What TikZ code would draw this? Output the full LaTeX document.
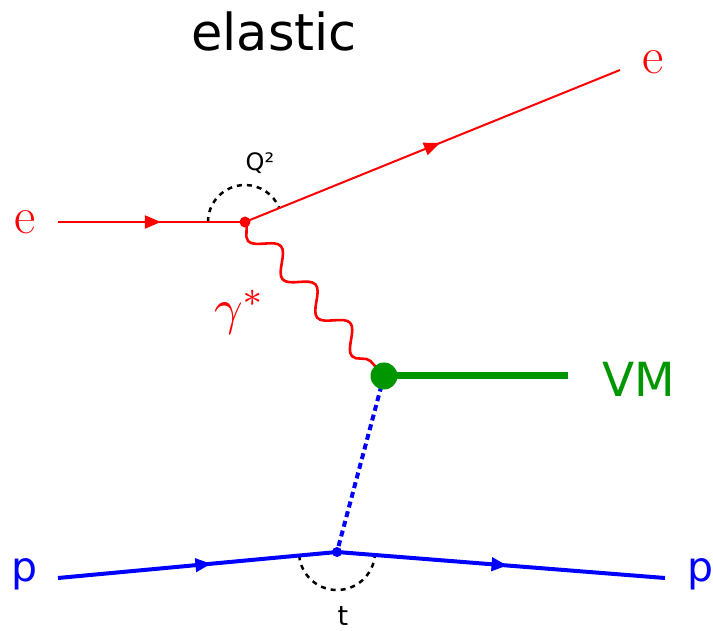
\documentclass[tikz,border=0pt]{standalone}
\usepackage{fontspec}
\newfontfamily\dvsans{DejaVu Sans}
\usetikzlibrary{calc,decorations.pathmorphing,decorations.markings,arrows.meta}
\definecolor{ered}{RGB}{255,0,0}
\definecolor{pblue}{RGB}{0,0,255}
\definecolor{vmgreen}{RGB}{0,150,0}
\tikzset{
  midarrow/.style={postaction={decorate},decoration={markings,mark=at position #1 with {\arrow{Triangle[length=16pt,width=13pt]}}}},
  electron/.style={draw=ered,line width=2pt},
  proton/.style={draw=pblue,line width=4pt},
  photon/.style={draw=ered,line width=2.6pt,decorate,decoration={snake,mirror,amplitude=10.5pt,segment length=51.7pt,post length=2pt}},
  pomeron/.style={draw=pblue,line width=4pt,dash pattern=on 6pt off 4pt},
  anglearc/.style={draw=black,line width=2.5pt,dash pattern=on 5pt off 5pt},
  lbl/.style={inner sep=0pt},
}
\begin{document}
\begin{tikzpicture}[x=1pt,y=-1pt]
\useasboundingbox (0,0) rectangle (713,631);
\coordinate (ein) at (58,222);
\coordinate (ev) at (245,222);
\coordinate (eout) at (620,70);
\coordinate (vm) at (384,376);
\coordinate (vmend) at (568,376);
\coordinate (pin) at (58,578);
\coordinate (pv) at (337,552);
\coordinate (pout) at (665,578);
% arcs
\draw[anglearc] ($(ev)+(180:37)$) arc[start angle=180,end angle=338,radius=37];
\draw[anglearc] ($(pv)+(175:38)$) arc[start angle=175,end angle=5,radius=38];
% electron
\draw[electron,midarrow=0.55,fill=ered] (ein) -- (ev);
\draw[electron,midarrow=0.52,fill=ered] (ev) -- (eout);
% photon
\draw[photon] (ev) -- (vm);
% pomeron
\draw[pomeron] (vm) -- (pv);
% proton
\draw[proton,midarrow=0.55,fill=pblue] (pin) -- (pv);
\draw[proton,midarrow=0.52,fill=pblue] (pv) -- (pout);
% VM
\draw[draw=vmgreen,line width=7pt] (vm) -- (vmend);
\fill[vmgreen] (vm) circle (13.5);
\fill[ered] (ev) circle (5.5);
\fill[pblue] (pv) circle (5);
% labels
\node[lbl] (title) at (274,31) {\dvsans\fontsize{51}{60}\selectfont elastic};
\node[lbl] (q2) at (260,163) {\dvsans\fontsize{24}{28}\selectfont Q²};
\node[lbl] (tl) at (343,616) {\dvsans\fontsize{27}{30}\selectfont t};
\node[lbl,text=ered] (el) at (25,222) {\fontsize{52}{56}\selectfont e};
\node[lbl,text=ered] (er) at (653,62) {\fontsize{52}{56}\selectfont e};
\node[lbl,text=ered] (gl) at (240,312) {\scalebox{5}{$\gamma^{*}$}};
\node[lbl,text=vmgreen] (vml) at (639,379) {\dvsans\fontsize{47}{52}\selectfont VM};
\node[lbl,text=pblue] (pl) at (25,574) {\dvsans\fontsize{41}{46}\selectfont p};
\node[lbl,text=pblue] (pr) at (701,574) {\dvsans\fontsize{41}{46}\selectfont p};
\end{tikzpicture}
\end{document}
